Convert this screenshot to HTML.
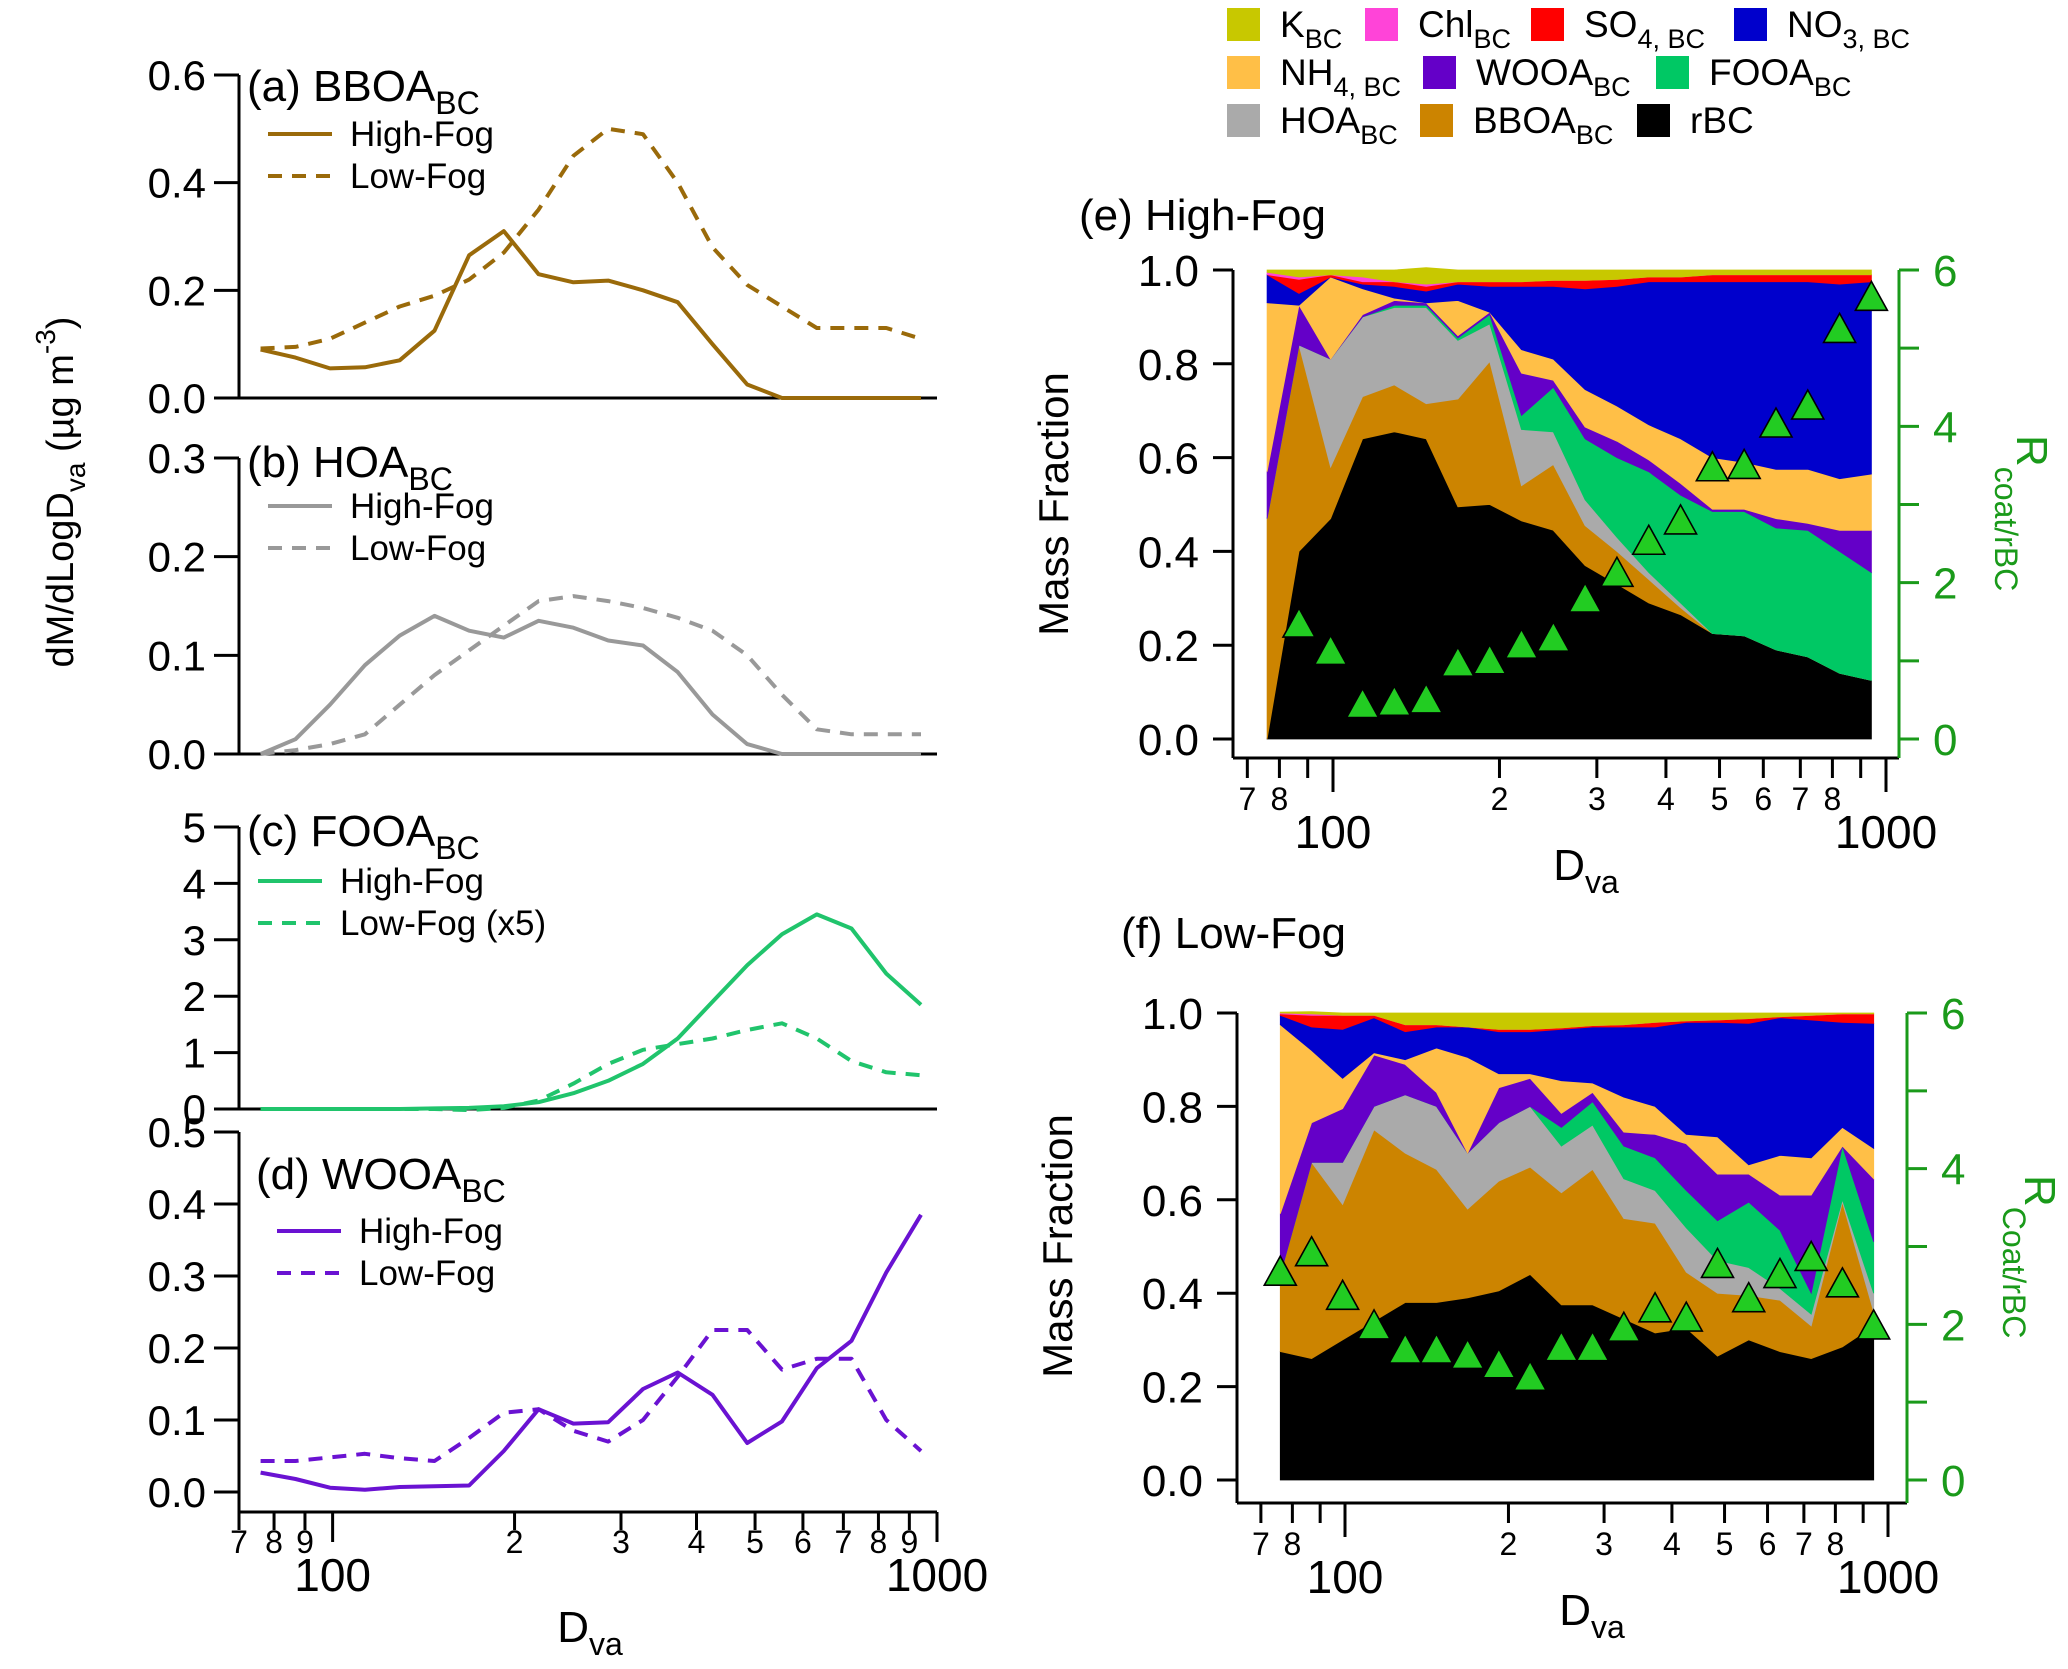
<!DOCTYPE html>
<html><head><meta charset="utf-8">
<style>
html,body{margin:0;padding:0;background:#fff;}
svg{display:block;font-family:"Liberation Sans",Arial,sans-serif;}
</style></head>
<body>
<svg id="fig" xmlns="http://www.w3.org/2000/svg" width="2068" height="1669" viewBox="0 0 2068 1669"></svg>
<script>
// ---------- data ----------
const dva = [76,86.8,99.0,113.1,129.1,147.4,168.2,192.0,219.2,250.3,285.7,326.2,372.4,425.1,485.3,554.0,632.5,722.0,824.3,941.0];
// left panels
const bboaHigh = [0.09,0.075,0.055,0.057,0.07,0.125,0.265,0.31,0.23,0.215,0.218,0.2,0.178,0.1,0.025,0,0,0,0,0];
const bboaLow  = [0.092,0.095,0.11,0.14,0.17,0.19,0.22,0.27,0.35,0.45,0.5,0.49,0.4,0.28,0.21,0.17,0.13,0.13,0.13,0.11];
const hoaHigh  = [0,0.015,0.05,0.09,0.12,0.14,0.125,0.118,0.135,0.128,0.115,0.11,0.083,0.04,0.01,0,0,0,0,0];
const hoaLow   = [0,0.004,0.01,0.02,0.05,0.08,0.105,0.13,0.155,0.16,0.155,0.148,0.138,0.125,0.1,0.06,0.025,0.02,0.02,0.02];
const fooaHigh = [0,0,0,0,0,0.01,0.02,0.05,0.12,0.28,0.5,0.8,1.25,1.9,2.55,3.1,3.45,3.2,2.4,1.85];
const fooaLow  = [0,0,0,0,0,0,-0.02,0.02,0.15,0.45,0.8,1.05,1.15,1.25,1.4,1.52,1.25,0.85,0.65,0.6];
const wooaHigh = [0.027,0.018,0.006,0.003,0.007,0.008,0.009,0.057,0.115,0.095,0.097,0.143,0.166,0.135,0.068,0.098,0.172,0.21,0.305,0.385];
const wooaLow  = [0.043,0.043,0.048,0.053,0.047,0.043,0.075,0.11,0.115,0.085,0.07,0.1,0.16,0.225,0.225,0.17,0.185,0.185,0.1,0.057];
// panel e (High-Fog) mass fractions
const eRBC  = [0,0.40,0.47,0.64,0.655,0.64,0.495,0.50,0.465,0.445,0.37,0.33,0.29,0.265,0.225,0.22,0.19,0.175,0.14,0.125];
const eBBOA = [0.47,0.44,0.11,0.09,0.10,0.075,0.23,0.305,0.075,0.14,0.085,0.07,0.05,0.015,0,0,0,0,0,0];
const eHOA  = [0,0,0.23,0.17,0.165,0.205,0.125,0.08,0.12,0.07,0.055,0.03,0.015,0.01,0,0,0,0,0,0];
const eFOOA = [0,0,0,0,0.005,0.005,0.005,0.02,0.03,0.095,0.13,0.17,0.215,0.23,0.26,0.265,0.26,0.27,0.26,0.23];
const eWOOA = [0.10,0.085,0,0.005,0.01,0.005,0.005,0.005,0.09,0.015,0.025,0.035,0.025,0.025,0.005,0.005,0.02,0.015,0.045,0.09];
const eNH4  = [0.36,0,0.175,0.055,0.005,0,0.075,0,0.05,0.045,0.08,0.075,0.075,0.095,0.11,0.10,0.105,0.115,0.11,0.12];
const eNO3  = [0.06,0.025,0,0.01,0.025,0.025,0.035,0.055,0.135,0.155,0.215,0.255,0.305,0.335,0.375,0.385,0.40,0.40,0.415,0.41];
const eSO4  = [0,0.03,0.005,0.005,0.01,0.01,0.005,0.01,0.01,0.013,0.018,0.015,0.01,0.01,0.015,0.015,0.015,0.015,0.02,0.015];
const eChl  = [0.005,0.005,0,0.01,0,0.005,0,0,0,0,0,0,0,0,0,0,0,0,0,0];
const eK    = [0.005,0.015,0.01,0.015,0.025,0.035,0.025,0.025,0.025,0.022,0.022,0.02,0.015,0.015,0.01,0.01,0.01,0.01,0.01,0.01];
const eR    = [null,1.47,1.12,0.44,0.47,0.5,0.97,1.0,1.2,1.29,1.79,2.12,2.53,2.79,3.47,3.5,4.03,4.26,5.24,5.65];
// panel f (Low-Fog)
const fRBC  = [0.275,0.26,0.30,0.34,0.38,0.38,0.39,0.405,0.44,0.375,0.375,0.345,0.315,0.325,0.265,0.30,0.275,0.26,0.285,0.33];
const fBBOA = [0.165,0.42,0.29,0.41,0.32,0.285,0.19,0.235,0.23,0.24,0.29,0.215,0.235,0.12,0.135,0.095,0.11,0.07,0.31,0.03];
const fHOA  = [0,0,0.09,0.05,0.125,0.135,0.12,0.125,0.13,0.10,0.095,0.085,0.07,0.095,0.07,0.06,0.025,0.025,0.005,0.04];
const fFOOA = [0,0,0,0,0,0,0,0,0,0.04,0.05,0.07,0.07,0.08,0.085,0.14,0.125,0.045,0.115,0.11];
const fWOOA = [0.13,0.085,0.115,0.11,0.065,0.03,0,0.075,0.06,0.03,0.02,0.03,0.05,0.10,0.10,0.06,0.075,0.21,0,0.135];
const fNH4  = [0.405,0.155,0.065,0.005,0.01,0.095,0.205,0.03,0.01,0.07,0.02,0.075,0.06,0.02,0.08,0.02,0.085,0.08,0.04,0.065];
const fNO3  = [0.02,0.05,0.105,0.075,0.06,0.045,0.065,0.09,0.09,0.11,0.12,0.15,0.17,0.24,0.245,0.303,0.295,0.295,0.225,0.268];
const fSO4  = [0.003,0.025,0.03,0.005,0.015,0.005,0,0.005,0.005,0.003,0.003,0.005,0.01,0.003,0.005,0.01,0.002,0.01,0.018,0.02];
const fChl  = [0.002,0.003,0,0,0,0,0,0,0,0,0,0,0,0,0,0,0,0,0,0];
const fK    = [0.002,0.005,0.005,0.005,0.025,0.025,0.03,0.035,0.035,0.032,0.027,0.025,0.02,0.017,0.015,0.012,0.008,0.005,0.002,0.002];
const fR    = [2.67,2.92,2.36,1.98,1.67,1.67,1.6,1.48,1.32,1.70,1.70,1.95,2.2,2.08,2.77,2.33,2.64,2.86,2.52,1.98];

// ---------- helpers ----------
const NS = "http://www.w3.org/2000/svg";
const svg = document.getElementById('fig');
function mk(tag, attrs, parent){
  const e = document.createElementNS(NS, tag);
  for (const k in attrs) e.setAttribute(k, attrs[k]);
  (parent||svg).appendChild(e);
  return e;
}
function line(x1,y1,x2,y2,stroke,w,parent){
  return mk('line',{x1:x1,y1:y1,x2:x2,y2:y2,stroke:stroke,'stroke-width':w},parent);
}
function txt(x,y,str,size,anchor,fill,parent){
  const t = mk('text',{x:x,y:y,'font-size':size,'text-anchor':anchor||'start',fill:fill||'#000'},parent);
  t.textContent = str;
  return t;
}
function sub(t,main,subtxt,size,subSize){
  t.textContent='';
  const a = mk('tspan',{},t); a.textContent = main;
  const b = mk('tspan',{dy: size*0.3,'font-size':subSize},t); b.textContent = subtxt;
  return t;
}

// ---------- left panels ----------
const LX0 = 239, LX1 = 937;
const lLogMin = Math.log10(70);
function xL(d){ return LX0 + (Math.log10(d)-lLogMin)/(3-lLogMin)*(LX1-LX0); }

const leftPanels = [
 {id:'a', name:'bboa', title:'(a) BBOA', y0:398, ytop:75, max:0.6, ticks:[0,0.2,0.4,0.6], dec:1, color:'#9a6a0a', hi:bboaHigh, lo:bboaLow, lowLabel:'Low-Fog', tx:247, ty:101, lgx:268, lgy:134},
 {id:'b', name:'hoa', title:'(b) HOA', y0:754, ytop:458, max:0.3, ticks:[0,0.1,0.2,0.3], dec:1, color:'#999999', hi:hoaHigh, lo:hoaLow, lowLabel:'Low-Fog', tx:247, ty:477, lgx:268, lgy:506},
 {id:'c', name:'fooa', title:'(c) FOOA', y0:1109, ytop:827, max:5, ticks:[0,1,2,3,4,5], dec:0, color:'#20c46c', hi:fooaHigh, lo:fooaLow, lowLabel:'Low-Fog (x5)', tx:247, ty:846, lgx:258, lgy:881},
 {id:'d', name:'wooa', title:'(d) WOOA', y0:1492, ytop:1132, max:0.5, ticks:[0,0.1,0.2,0.3,0.4,0.5], dec:1, color:'#6a12d2', hi:wooaHigh, lo:wooaLow, lowLabel:'Low-Fog', tx:256, ty:1189, lgx:277, lgy:1231}
];
leftPanels.forEach(p=>{
  const g = mk('g',{});
  
  
  const yS = v => p.y0 - v/p.max*(p.y0-p.ytop);
  const yBottom = p.id==='d' ? 1512 : p.y0;
  const ax = line(LX0, p.ytop, LX0, yBottom, '#000', 3, g);
  
  
  p.ticks.forEach(v=>{
    const tk = line(214, yS(v), LX0, yS(v), '#000', 3, g);
    
    
    const tl = txt(206, yS(v)+15, v.toFixed(p.dec), 42, 'end', '#000', g);
    
    
  });
  if (p.id!=='d'){
    const xa = line(LX0, p.y0, LX1, p.y0, '#000', 3, g);
    
    
  }
  const mkPath = (arr, dashed)=>{
    let d = '';
    arr.forEach((v,i)=>{ d += (i?'L':'M') + xL(dva[i]).toFixed(1) + ',' + yS(v).toFixed(1); });
    const pa = mk('path',{d:d, fill:'none', stroke:p.color, 'stroke-width':4, 'stroke-linejoin':'round'}, g);
    if (dashed) pa.setAttribute('stroke-dasharray','14,10');
    return pa;
  };
  const ph = mkPath(p.hi,false);
  
  
  const pl = mkPath(p.lo,true);
  
  
  const tt = txt(p.tx, p.ty, '', 44, 'start', '#000', g);
  sub(tt, p.title, 'BC', 44, 32);
  
  
  const l1 = line(p.lgx, p.lgy, p.lgx+64, p.lgy, p.color, 4, g);
  
  
  const t1 = txt(p.lgx+82, p.lgy+12, 'High-Fog', 35, 'start', '#000', g);
  
  
  const l2 = line(p.lgx, p.lgy+42, p.lgx+64, p.lgy+42, p.color, 4, g);
  l2.setAttribute('stroke-dasharray','14,10');
  
  
  const t2 = txt(p.lgx+82, p.lgy+54, p.lowLabel, 35, 'start', '#000', g);
  
  
});
// left bottom axis
(function(){
  const g = mk('g',{});
  
  
  const a = line(LX0, 1512, LX1, 1512, '#000', 3, g);
  
  
  const vals = [70,80,90,100,200,300,400,500,600,700,800,900,1000];
  vals.forEach(v=>{
    const major = (v===100||v===1000);
    const x = xL(v);
    const tk = line(x, 1512, x, major?1542:1530, '#000', 3, g);
    
    
    if (!major){
      const tl = txt(x, 1553, String(v).charAt(0), 32, 'middle', '#000', g);
      
      
    } else {
      const tl = txt(x, 1591, String(v), 46, 'middle', '#000', g);
      
      
    }
  });
  const xt = txt(590, 1642, '', 44, 'middle', '#000', g);
  sub(xt, 'D', 'va', 44, 32);
  
  
})();
// left y title
(function(){
  const t = mk('text',{x:0,y:0,'font-size':38,'text-anchor':'middle',transform:'translate(73,492) rotate(-90)'});
  const a = mk('tspan',{},t); a.textContent='dM/dLogD';
  const b = mk('tspan',{dy:12,'font-size':28},t); b.textContent='va';
  const c = mk('tspan',{dy:-12},t); c.textContent=' (\u00b5g m';
  const d = mk('tspan',{dy:-18,'font-size':28},t); d.textContent='-3';
  const e = mk('tspan',{dy:18},t); e.textContent=')';
  
  
})();

// ---------- right panels ----------
const species = ['rBC','BBOA','HOA','FOOA','WOOA','NH4','NO3','SO4','Chl','K'];
const colors  = ['#000000','#cc8400','#aaaaaa','#00c864','#6400c8','#ffbf47','#0000cc','#ff0000','#ff44d8','#c8c800'];
const rightPanels = [
 {id:'e', name:'high-fog', title:'(e) High-Fog', tx:1079, ty:230, x100:1333, dec:553, yTop:270, y0:739, axL:1233, axR:1899, axB:758,
  data:[eRBC,eBBOA,eHOA,eFOOA,eWOOA,eNH4,eNO3,eSO4,eChl,eK], R:eR, rsub:'coat/rBC', mfY:504, rY:435},
 {id:'f', name:'low-fog', title:'(f) Low-Fog', tx:1121, ty:948, x100:1345, dec:543, yTop:1013, y0:1480, axL:1237, axR:1907, axB:1503,
  data:[fRBC,fBBOA,fHOA,fFOOA,fWOOA,fNH4,fNO3,fSO4,fChl,fK], R:fR, rsub:'Coat/rBC', mfY:1246, rY:1175}
];
rightPanels.forEach(p=>{
  const g = mk('g',{});
  
  
  const xS = d => p.x100 + (Math.log10(d)-2)*p.dec;
  const yS = v => p.y0 - v*(p.y0-p.yTop);
  const yR = v => p.y0 - v/6*(p.y0-p.yTop);
  const cum = dva.map(()=>0);
  p.data.forEach((arr,si)=>{
    const top = cum.map((c,i)=>c+arr[i]);
    let d='';
    dva.forEach((dv,i)=>{ d += (i?'L':'M') + xS(dv).toFixed(1)+','+yS(top[i]).toFixed(1); });
    for (let i=dva.length-1;i>=0;i--){ d += 'L'+xS(dva[i]).toFixed(1)+','+yS(cum[i]).toFixed(1); }
    d += 'Z';
    const pa = mk('path',{d:d, fill:colors[si], stroke:colors[si], 'stroke-width':0.8}, g);
    
    
    top.forEach((v,i)=>cum[i]=v);
  });
  const la = line(p.axL, p.yTop, p.axL, p.axB, '#000', 3, g);
  
  
  const ba = line(p.axL, p.axB, p.axR, p.axB, '#000', 3, g);
  
  
  const ra = line(p.axR, p.yTop, p.axR, p.axB, '#1a9a1a', 3, g);
  
  
  [0,0.2,0.4,0.6,0.8,1.0].forEach(v=>{
    const tk = line(p.axL-20, yS(v), p.axL, yS(v), '#000', 3, g);
    
    
    const tl = txt(p.axL-34, yS(v)+16, v.toFixed(1), 44, 'end', '#000', g);
    
    
  });
  [0,1,2,3,4,5,6].forEach(v=>{
    const tk = line(p.axR, yR(v), p.axR+20, yR(v), '#1a9a1a', 3, g);
    
    
    if (v%2===0){
      const tl = txt(p.axR+34, yR(v)+16, String(v), 44, 'start', '#1a9a1a', g);
      
      
    }
  });
  [70,80,90,100,200,300,400,500,600,700,800,900,1000].forEach(v=>{
    const major = (v===100||v===1000);
    const x = xS(v);
    const tk = line(x, p.axB, x, p.axB+(major?34:20), '#000', 3, g);
    
    
    if (major){
      const tl = txt(x, p.axB+90, String(v), 46, 'middle', '#000', g);
      
      
    } else if (v!==90 && v!==900){
      const tl = txt(x, p.axB+52, String(v).charAt(0), 32, 'middle', '#000', g);
      
      
    }
  });
  p.R.forEach((r,i)=>{
    if (r===null) return;
    const cx = xS(dva[i]), cy = yR(r);
    const tri = mk('polygon',{points:(cx-16)+','+(cy+13)+' '+(cx+16)+','+(cy+13)+' '+cx+','+(cy-16), fill:'#22cc22', stroke:'#000', 'stroke-width':1.6}, g);
    
    
  });
  const tt = txt(p.tx, p.ty, p.title, 44, 'start', '#000', g);
  
  
  const xt = txt((p.axL+p.axR)/2+20, p.axB+122, '', 44, 'middle', '#000', g);
  sub(xt, 'D', 'va', 44, 32);
  
  
  const mf = mk('text',{x:0,y:0,'font-size':42,'text-anchor':'middle',transform:'translate('+(p.axL-165)+','+p.mfY+') rotate(-90)'}, g);
  mf.textContent = 'Mass Fraction';
  
  
  const rt = mk('text',{x:0,y:0,'font-size':44,fill:'#1a9a1a',transform:'translate('+(p.axR+118)+','+p.rY+') rotate(90)'}, g);
  const r1 = mk('tspan',{},rt); r1.textContent='R';
  const r2 = mk('tspan',{dy:22,'font-size':32},rt); r2.textContent=p.rsub;
  
  
});

// ---------- legend ----------
const legendLabels = [['K','BC'],['Chl','BC'],['SO','4, BC'],['NO','3, BC'],['NH','4, BC'],['WOOA','BC'],['FOOA','BC'],['HOA','BC'],['BBOA','BC'],['rBC','']];
const legendColors = ['#c8c800','#ff44d8','#ff0000','#0000cc','#ffbf47','#6400c8','#00c864','#aaaaaa','#cc8400','#000000'];
const legendX = [1227,1365,1531,1734,1227,1423,1656,1227,1420,1637];
const legendRow = [0,0,0,0,1,1,1,2,2,2];
(function(){
  const g = mk('g',{});
  
  
  legendLabels.forEach((lb,i)=>{
    const yc = 24 + legendRow[i]*48;
    const sw = mk('rect',{x:legendX[i], y:yc-16, width:33, height:33, fill:legendColors[i]}, g);
    
    
    const t = txt(legendX[i]+53, yc+13, '', 37, 'start', '#000', g);
    if (lb[1]) sub(t, lb[0], lb[1], 37, 27); else t.textContent = lb[0];
    
    
  });
})();
</script>
</body></html>
